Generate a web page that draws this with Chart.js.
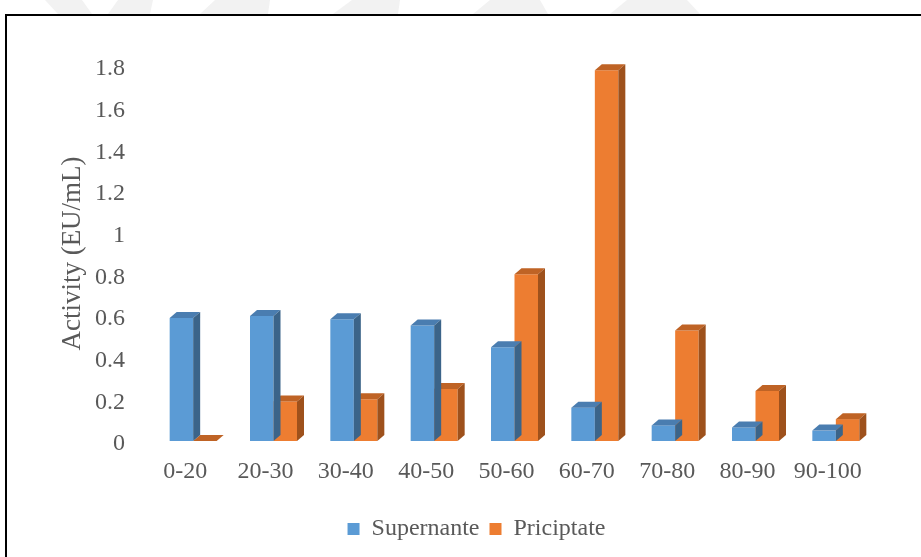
<!DOCTYPE html>
<html>
<head>
<meta charset="utf-8">
<script src="https://cdn.jsdelivr.net/npm/chart.js@4"></script>
<style>
  html, body { margin: 0; padding: 0; background: #fff; overflow: hidden; }
  #wrap { position: relative; width: 921px; height: 557px; }
  #frame { position: absolute; left: 5px; top: 14px; width: 960px; height: 600px; border: 2px solid #000; box-sizing: border-box; }
  #mark { position: absolute; left: 0; top: 0; }
  canvas { position: absolute; left: 0; top: 0; }
</style>
</head>
<body>
<div id="wrap">
  <!-- faint watermark strip above the frame -->
  <svg id="mark" width="921" height="14">
    <g fill="#f2f2f2">
      <polygon points="45,0 82,0 92,14 58,14"/>
      <polygon points="118,0 153,0 150,14 108,14"/>
      <polygon points="215,0 270,0 268,14 200,14"/>
      <polygon points="352,0 400,0 398,14 333,14"/>
      <polygon points="490,0 540,0 548,14 473,14"/>
      <polygon points="627,0 687,0 700,14 610,14"/>
    </g>
  </svg>
  <div id="frame"></div>
  <canvas id="chart" width="921" height="557"></canvas>
</div>
<script>
  const categories = ['0-20', '20-30', '30-40', '40-50', '50-60', '60-70', '70-80', '80-90', '90-100'];
  const supernante = [0.59, 0.6, 0.585, 0.555, 0.45, 0.16, 0.075, 0.065, 0.05];
  const priciptate = [0, 0.19, 0.2, 0.25, 0.8, 1.78, 0.53, 0.24, 0.105];
  const yTicks = [0, 0.2, 0.4, 0.6, 0.8, 1, 1.2, 1.4, 1.6, 1.8];

  Chart.defaults.font.family = "'Liberation Serif', 'Times New Roman', serif";
  Chart.defaults.color = '#595959';

  // fake 3D: top and right faces drawn after each dataset's front faces
  const depthX = 7, depthY = 6;
  const bars3d = {
    id: 'bars3d',
    afterDatasetDraw(chart, args) {
      const ctx = chart.ctx;
      const ds = chart.data.datasets[args.index];
      args.meta.data.forEach(bar => {
        const { x, y, base, width } = bar.getProps(['x', 'y', 'base', 'width'], true);
        const l = x - width / 2, r = x + width / 2;
        ctx.save();
        ctx.fillStyle = ds.topColor;
        ctx.beginPath();
        ctx.moveTo(l, y);
        ctx.lineTo(l + depthX, y - depthY);
        ctx.lineTo(r + depthX, y - depthY);
        ctx.lineTo(r, y);
        ctx.closePath();
        ctx.fill();
        ctx.fillStyle = ds.sideColor;
        ctx.beginPath();
        ctx.moveTo(r, y);
        ctx.lineTo(r + depthX, y - depthY);
        ctx.lineTo(r + depthX, base - depthY);
        ctx.lineTo(r, base);
        ctx.closePath();
        ctx.fill();
        ctx.restore();
      });
    }
  };

  new Chart(document.getElementById('chart'), {
    type: 'bar',
    data: {
      labels: categories,
      datasets: [
        { label: 'Supernante', data: supernante, backgroundColor: '#5b9bd5', topColor: '#4a7db0', sideColor: '#3b6489' },
        { label: 'Priciptate', data: priciptate, backgroundColor: '#ed7d31', topColor: '#bf6325', sideColor: '#9e511c' }
      ]
    },
    options: {
      responsive: false,
      animation: false,
      events: [],
      categoryPercentage: 0.585,
      barPercentage: 1.0,
      layout: { padding: { left: 77, right: 45, top: 66, bottom: 6 } },
      scales: {
        x: {
          grid: { display: false, drawTicks: false },
          border: { display: false },
          ticks: { font: { size: 24 }, padding: 16, labelOffset: -8, maxRotation: 0 },
          afterFit: s => { s.height = 66; }
        },
        y: {
          min: 0,
          max: 1.8,
          afterBuildTicks: s => { s.ticks = yTicks.map(v => ({ value: v })); },
          grid: { display: false, drawTicks: false },
          border: { display: false },
          ticks: { font: { size: 24 }, padding: 28, labelOffset: 3, callback: v => String(+v.toFixed(1)) },
          title: { display: true, text: 'Activity (EU/mL)', font: { size: 27 }, padding: { top: -20, bottom: 0 } },
          afterFit: s => { s.width = 76; }
        }
      },
      plugins: {
        legend: {
          position: 'bottom',
          labels: { font: { size: 24 }, boxWidth: 12, boxHeight: 12, padding: 10, color: '#595959' }
        },
        tooltip: { enabled: false }
      }
    },
    plugins: [bars3d]
  });
</script>
</body>
</html>
